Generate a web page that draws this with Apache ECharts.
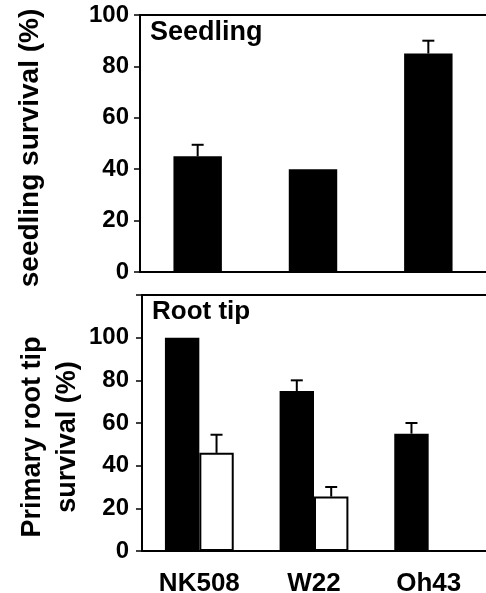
<!DOCTYPE html>
<html>
<head>
<meta charset="utf-8">
<script src="https://cdn.jsdelivr.net/npm/echarts@6/dist/echarts.min.js"></script>
<style>html,body{margin:0;padding:0;background:#fff;}#c{width:486px;height:593px;}</style>
</head>
<body>
<div id="c"></div>
<script>
const categories = ['NK508', 'W22', 'Oh43'];
const seedling = [45, 40, 85];
const seedlingErr = [4.5, 0, 5];
const rootBlack = [100, 75, 55];
const rootBlackErr = [0, 5, 5];
const rootWhite = [46, 25.5, null];
const rootWhiteErr = [8.5, 4.5, null];
const seedTicks = [0, 20, 40, 60, 80, 100];
const rootTicks = [0, 20, 40, 60, 80, 100];

const FONT = '"Liberation Sans", Arial, sans-serif';

function errSeries(xi, yi, vals, errs, off) {
  return {
    type: 'custom',
    xAxisIndex: xi, yAxisIndex: yi,
    z: 5,
    data: categories.map((c, i) => [i, vals[i], errs[i]]),
    encode: { x: 0, y: 1 },
    renderItem: function (params, api) {
      const i = api.value(0), v = api.value(1), e = api.value(2);
      if (v == null || isNaN(v) || !e) return;
      const band = api.size([1, 0])[0];
      const b = api.coord([i, v]);
      const t = api.coord([i, v + e]);
      const cx = b[0] + off * band;
      const style = { stroke: '#000', lineWidth: 2 };
      return {
        type: 'group',
        children: [
          { type: 'line', shape: { x1: cx, y1: b[1], x2: cx, y2: t[1] }, style: style },
          { type: 'line', shape: { x1: cx - 6, y1: t[1], x2: cx + 6, y2: t[1] }, style: style }
        ]
      };
    }
  };
}

const chart = echarts.init(document.getElementById('c'));
const lineStyle = { color: '#000', width: 2 };
const labelStyle = { color: '#000', fontFamily: FONT, fontWeight: 'bold', fontSize: 24 };

chart.setOption({
  animation: false,
  backgroundColor: '#fff',
  title: [
    { text: 'Seedling', left: 150, top: 19, padding: 0,
      textStyle: { fontFamily: FONT, fontWeight: 'bold', fontSize: 27, color: '#000' } },
    { text: 'Root tip', left: 152, top: 299, padding: 0,
      textStyle: { fontFamily: FONT, fontWeight: 'bold', fontSize: 26, color: '#000' } }
  ],
  grid: [
    { left: 140, right: 0, top: 15, height: 257, outerBoundsMode: 'none', containLabel: false },
    { left: 142, right: 0, top: 295, height: 256, outerBoundsMode: 'none', containLabel: false }
  ],
  xAxis: [
    { gridIndex: 0, type: 'category', data: categories, position: 'bottom',
      axisLine: { lineStyle: lineStyle }, axisTick: { show: false }, axisLabel: { show: false } },
    { gridIndex: 0, type: 'category', data: categories, position: 'top',
      axisLine: { lineStyle: lineStyle }, axisTick: { show: false }, axisLabel: { show: false } },
    { gridIndex: 1, type: 'category', data: categories, position: 'bottom',
      axisLine: { lineStyle: lineStyle }, axisTick: { show: false },
      axisLabel: Object.assign({ margin: 20 }, labelStyle, { fontSize: 26 }) },
    { gridIndex: 1, type: 'category', data: categories, position: 'top',
      axisLine: { lineStyle: lineStyle }, axisTick: { show: false }, axisLabel: { show: false } }
  ],
  yAxis: [
    { gridIndex: 0, type: 'value', min: 0, max: 100, interval: 20,
      name: 'seedling survival (%)', nameLocation: 'middle', nameGap: 96, nameRotate: 90,
      nameMoveOverlap: false,
      nameTextStyle: { color: '#000', fontFamily: FONT, fontWeight: 'bold', fontSize: 28, padding: [0, 9, 0, 0] },
      axisLine: { show: true, lineStyle: lineStyle },
      axisTick: { show: true, length: 6, lineStyle: { color: '#000', width: 1.5 } },
      splitLine: { show: false },
      axisLabel: Object.assign({ margin: 11, formatter: v => seedTicks.includes(v) ? String(v) : '' }, labelStyle) },
    { gridIndex: 1, type: 'value', min: 0, max: 120, interval: 20,
      name: 'Primary root tip\nsurvival (%)', nameLocation: 'middle', nameGap: 57, nameRotate: 90,
      nameMoveOverlap: false,
      nameTextStyle: { color: '#000', fontFamily: FONT, fontWeight: 'bold', fontSize: 27, lineHeight: 35,
        padding: [0, 28, 0, 0] },
      axisLine: { show: true, lineStyle: lineStyle },
      axisTick: { show: true, length: 6, lineStyle: { color: '#000', width: 1.5 } },
      splitLine: { show: false },
      axisLabel: Object.assign({ margin: 13, formatter: v => rootTicks.includes(v) ? String(v) : '' }, labelStyle) }
  ],
  series: [
    { type: 'bar', xAxisIndex: 0, yAxisIndex: 0, data: seedling, barWidth: '42%',
      itemStyle: { color: '#000' } },
    errSeries(0, 0, seedling, seedlingErr, 0),
    { type: 'bar', xAxisIndex: 2, yAxisIndex: 1, data: rootBlack, barWidth: '30%', barGap: '0%',
      itemStyle: { color: '#000' } },
    { type: 'bar', xAxisIndex: 2, yAxisIndex: 1, data: rootWhite, barWidth: '30%', barGap: '0%',
      itemStyle: { color: '#fff', borderColor: '#000', borderWidth: 2 } },
    errSeries(2, 1, rootBlack, rootBlackErr, -0.15),
    errSeries(2, 1, rootWhite, rootWhiteErr, 0.15)
  ]
});
</script>
</body>
</html>
